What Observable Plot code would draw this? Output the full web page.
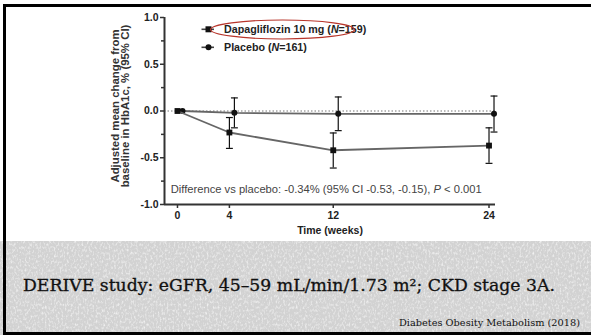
<!DOCTYPE html>
<html><head><meta charset="utf-8">
<script src="https://cdn.jsdelivr.net/npm/d3@7"></script>
<script src="https://cdn.jsdelivr.net/npm/@observablehq/plot@0.6"></script>
<style>
html,body{margin:0;padding:0;background:#fff;}
#slide{position:relative;width:591px;height:335px;overflow:hidden;background:#fff;}
#grey{position:absolute;left:0;top:241px;}
.bar{position:absolute;background:#000;}
#chart{position:absolute;left:0;top:0;}
#texts{position:absolute;left:0;top:0;}
</style>
</head><body>
<div id="slide">
  <svg id="grey" width="591" height="94">
    <defs>
      <filter id="noise" x="0" y="0" width="100%" height="100%">
        <feTurbulence type="fractalNoise" baseFrequency="0.55 0.35" numOctaves="2" seed="7" result="n"/>
        <feColorMatrix in="n" type="matrix" values="0 0 0 0 1  0 0 0 0 1  0 0 0 0 1  0 0 0 1.6 -0.75" result="w"/>
        <feComposite in="w" in2="SourceGraphic" operator="in"/>
      </filter>
    </defs>
    <rect width="591" height="94" fill="#d2d2d2"/>
    <rect width="591" height="94" fill="#d2d2d2" filter="url(#noise)"/>
  </svg>
  <div id="chart"></div>
  <svg id="texts" width="591" height="335"></svg>
  <div class="bar" style="left:3px;top:4px;width:588px;height:3px"></div>
  <div class="bar" style="left:3px;top:4px;width:3px;height:331px"></div>
  <div class="bar" style="left:3px;top:332px;width:588px;height:3px"></div>
</div>
<script>
// ---- data ----
const weeks = [0, 4, 12, 24];
const dapaMean = [0, -0.23, -0.42, -0.37];
const dapaLo   = [null, -0.40, -0.61, -0.56];
const dapaHi   = [null, -0.07, -0.235, -0.18];
const placeboMean = [0, -0.02, -0.03, -0.03];
const placeboLo   = [null, -0.18, -0.21, -0.225];
const placeboHi   = [null, 0.14, 0.15, 0.16];
const xTicks = [0, 4, 12, 24];
const yTicks = [-1, -0.5, 0, 0.5, 1];
const yMinorTicks = [-0.75, -0.25, 0.25, 0.75];
const xDomain = [-1, 24.5];
const yDomain = [-1, 1];
const seriesNames = ["Dapagliflozin 10 mg", "Placebo"];
const seriesN = [159, 161];
const yLabel = "Adjusted mean change from\nbaseline in HbA1c, % (95% CI)";
const xLabel = "Time (weeks)";
const note = ["Difference vs placebo: -0.34% (95% CI -0.53, -0.15), ", "P", " < 0.001"];
const title = "DERIVE study: eGFR, 45\u201359 mL/min/1.73 m\u00B2; CKD stage 3A.";
const source = "Diabetes Obesity Metabolism (2018)";

const dapa = weeks.map((w, i) => ({week: w, mean: dapaMean[i], lo: dapaLo[i], hi: dapaHi[i]}));
const placebo = weeks.map((w, i) => ({week: w, mean: placeboMean[i], lo: placeboLo[i], hi: placeboHi[i]}));
const dapaCI = dapa.filter(d => d.lo != null);
const placeboCI = placebo.filter(d => d.lo != null);

const cap = {draw(ctx, size) { const w = Math.sqrt(size) / 2; ctx.moveTo(-w, 0); ctx.lineTo(w, 0); }};
const AX = "#333", LN = "#666", MK = "#111";
const PD = 5; // placebo dodge (px)

const plot = Plot.plot({
  width: 591, height: 241,
  marginLeft: 164, marginRight: 96, marginTop: 17, marginBottom: 37,
  style: {fontFamily: "Liberation Sans, Arial, sans-serif", fontSize: "10.5px", background: "transparent", color: "#222"},
  x: {domain: xDomain},
  y: {domain: yDomain},
  marks: [
    Plot.ruleY([0], {stroke: "#777", strokeWidth: 1, strokeDasharray: "1.5,2"}),
    Plot.axisY({ticks: yMinorTicks, tickSize: 3, tickFormat: () => "", stroke: AX, strokeWidth: 1.5, label: null}),
    Plot.axisY({ticks: yTicks, tickSize: 4, tickPadding: 2, tickFormat: d => d.toFixed(1), fontWeight: "bold", stroke: AX, strokeWidth: 1.5, label: null}),
    Plot.axisX({ticks: xTicks, tickSize: 4, tickPadding: 3, tickFormat: d => String(d), fontWeight: "bold", stroke: AX, strokeWidth: 1.5, label: null}),
    Plot.ruleX([xDomain[0]], {stroke: AX, strokeWidth: 2}),
    Plot.ruleY([yDomain[0]], {stroke: AX, strokeWidth: 2}),
    Plot.text([xLabel], {frameAnchor: "bottom", dy: 26, fontWeight: "bold", fontSize: 10.5, lineAnchor: "middle", fill: "#222"}),
    Plot.text([yLabel], {frameAnchor: "left", textAnchor: "middle", rotate: -90, dx: -44, dy: -5, lineAnchor: "middle", lineHeight: 0.92, fontWeight: "bold", fontSize: 11.4, fill: "#333"}),
    // placebo
    Plot.line(placebo, {x: "week", y: "mean", stroke: LN, strokeWidth: 1.8, dx: PD}),
    Plot.ruleX(placeboCI, {x: "week", y1: "lo", y2: "hi", stroke: MK, strokeWidth: 1.2, dx: PD}),
    Plot.dot(placeboCI, {x: "week", y: "lo", symbol: cap, r: 3.9, stroke: MK, strokeWidth: 1.2, dx: PD}),
    Plot.dot(placeboCI, {x: "week", y: "hi", symbol: cap, r: 3.9, stroke: MK, strokeWidth: 1.2, dx: PD}),
    Plot.dot(placebo, {x: "week", y: "mean", r: 3, fill: MK, dx: PD}),
    // dapagliflozin
    Plot.line(dapa, {x: "week", y: "mean", stroke: LN, strokeWidth: 1.8}),
    Plot.ruleX(dapaCI, {x: "week", y1: "lo", y2: "hi", stroke: MK, strokeWidth: 1.2}),
    Plot.dot(dapaCI, {x: "week", y: "lo", symbol: cap, r: 3.9, stroke: MK, strokeWidth: 1.2}),
    Plot.dot(dapaCI, {x: "week", y: "hi", symbol: cap, r: 3.9, stroke: MK, strokeWidth: 1.2}),
    Plot.dot(dapa, {x: "week", y: "mean", symbol: "square", r: 3.3, fill: MK})
  ]
});
document.getElementById("chart").appendChild(plot);

// ---- legend, annotation, highlight ----
const svg = d3.select(plot);
const g = svg.append("g").attr("font-family", "Liberation Sans, Arial, sans-serif").attr("text-anchor", "start");
const rows = [{y: 29.3, sym: "square"}, {y: 47.3, sym: "circle"}];
rows.forEach((r, i) => {
  g.append("line").attr("x1", 201.5).attr("x2", 214).attr("y1", r.y).attr("y2", r.y).attr("stroke", "#444").attr("stroke-width", 1.6);
  if (r.sym === "square") g.append("rect").attr("x", 205.5).attr("y", r.y - 3).attr("width", 6).attr("height", 6).attr("fill", MK);
  else g.append("circle").attr("cx", 208.5).attr("cy", r.y).attr("r", 3).attr("fill", MK);
  const t = g.append("text").attr("x", 224).attr("y", r.y + 3.7).attr("font-size", 10.7).attr("font-weight", "bold").attr("fill", "#222");
  t.append("tspan").text(seriesNames[i] + " (");
  t.append("tspan").attr("font-style", "italic").text("N");
  t.append("tspan").text("=" + seriesN[i] + ")");
});
g.append("ellipse").attr("cx", 282.5).attr("cy", 29.5).attr("rx", 72).attr("ry", 9.5)
  .attr("fill", "none").attr("stroke", "#b8352b").attr("stroke-width", 1.2);
const nt = g.append("text").attr("x", 170.7).attr("y", 193).attr("font-size", 11.2).attr("fill", "#444");
nt.append("tspan").text(note[0]);
nt.append("tspan").attr("font-style", "italic").text(note[1]);
nt.append("tspan").text(note[2]);

// ---- slide texts ----
const ts = d3.select("#texts");
ts.append("text").attr("x", 23).attr("y", 290.7).attr("font-family", "DejaVu Serif, serif").attr("font-size", 16.5)
  .attr("fill", "#111").attr("stroke", "#111").attr("stroke-width", 0.3)
  .attr("textLength", 532).attr("lengthAdjust", "spacingAndGlyphs").text(title);
ts.append("text").attr("x", 399).attr("y", 326).attr("font-family", "DejaVu Serif, serif").attr("font-size", 9.6)
  .attr("fill", "#111").attr("textLength", 181).attr("lengthAdjust", "spacingAndGlyphs").text(source);
</script>
</body></html>
